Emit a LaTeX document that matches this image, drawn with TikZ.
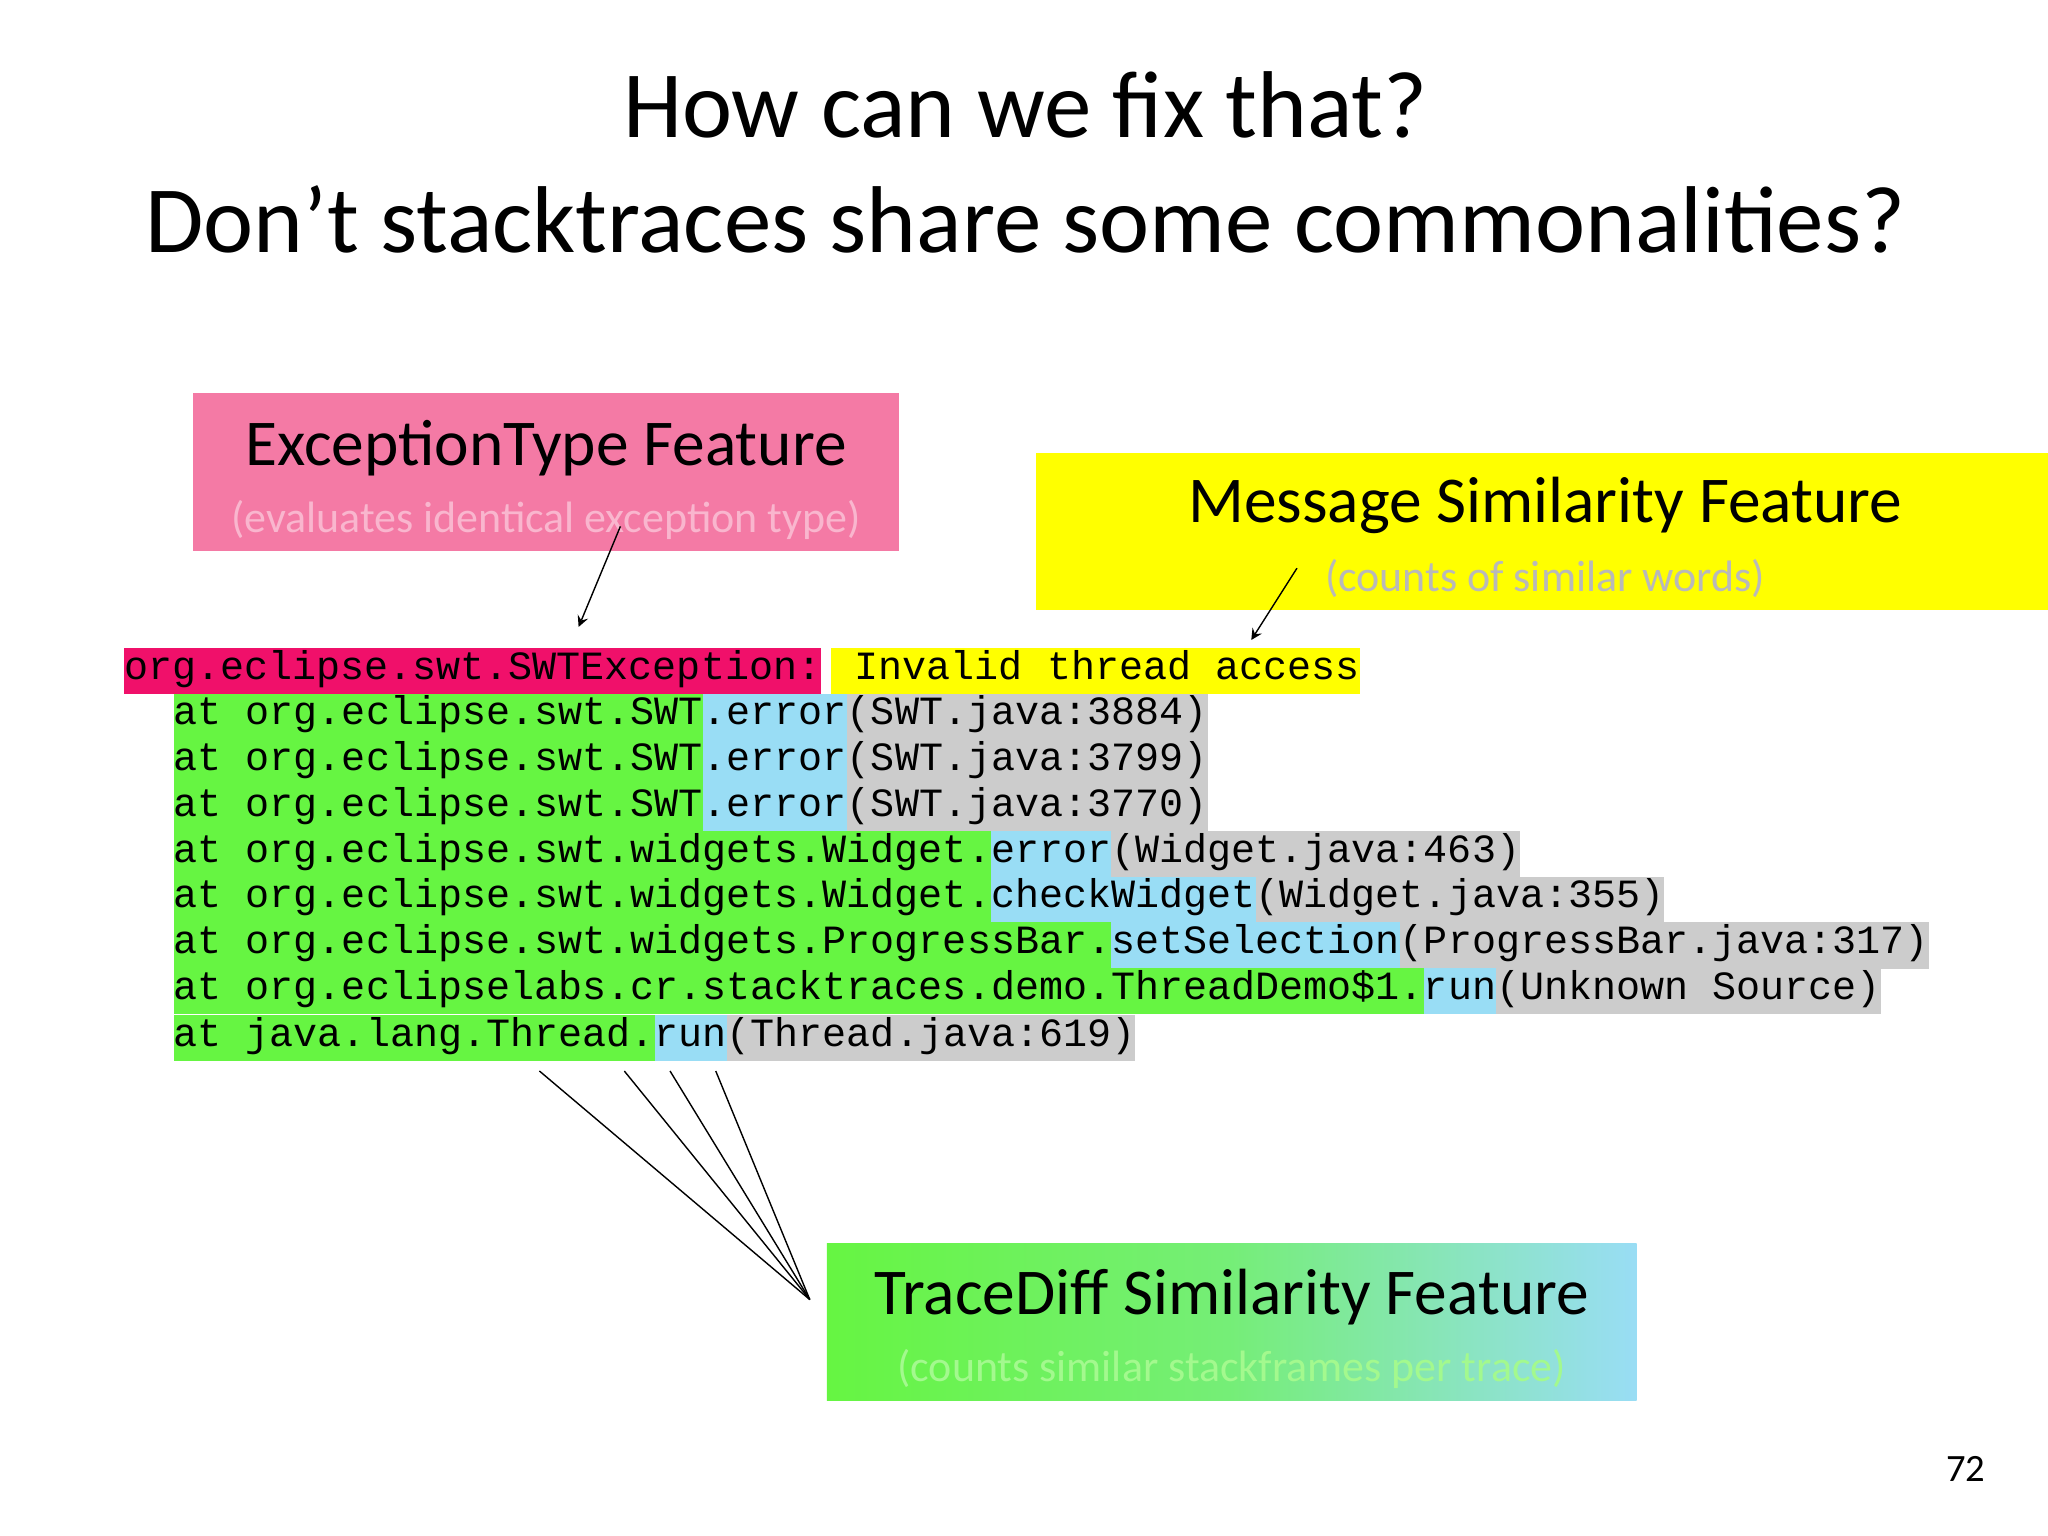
\documentclass[tikz,border=0pt]{standalone}
\usepackage{fontspec}
\setmainfont{Carlito}
\newfontfamily\codefont{Liberation Mono}
\definecolor{gr}{HTML}{66F542}
\definecolor{bl}{HTML}{99DDF5}
\definecolor{gy}{HTML}{CCCCCC}
\definecolor{pk}{HTML}{F0106A}
\definecolor{pkbox}{HTML}{F47AA5}
\definecolor{yl}{HTML}{FFFF00}
\begin{document}
\begin{tikzpicture}[x=0.01306cm,y=-0.01306cm,
  seg/.style={inner sep=0pt,outer sep=0pt,text height=0.31cm,text depth=0.151cm,font=\codefont\fontsize{11.4}{12}\selectfont,anchor=base west},
  ttl/.style={font=\fontsize{18.6}{20}\selectfont},
  sub/.style={font=\fontsize{12.5}{14}\selectfont},
  ln/.style={thin,black}]
\useasboundingbox (0,0) rectangle (1568,1176);
\node[font=\fontsize{27}{30}\selectfont] (t1) at (785,80) {How can we fix that?};
\node[font=\fontsize{27}{30}\selectfont] (t2) at (785,168) {Don’t stacktraces share some commonalities?};
% boxes
\fill[pkbox] (148,301) rectangle (688,422);
\node[ttl] (et) at (418,343) {ExceptionType Feature};
\node[sub,text=pkbox!55!white] (ets) at (418,398) {(evaluates identical exception type)};
\fill[yl] (793,347) rectangle (1568,467);
\node[ttl] (ms) at (1183,387) {Message Similarity Feature};
\node[sub,text=gray!55] (mss) at (1183,443) {(counts of similar words)};
\shade[left color=gr,right color=bl,middle color=gr!70!bl] (633,952) rectangle (1253,1072);
\node[ttl] (td) at (943,993) {TraceDiff Similarity Feature};
\node[sub,text=gr!60!white] (tds) at (943,1048) {(counts similar stackframes per trace)};
% code
\node[seg,fill=pk] (e1) at (95,520) {org.eclipse.swt.SWTException:};
\node[seg,fill=yl] (e2) at (636,520) {\ Invalid thread access\ };
\node[seg,fill=gr] (a1) at (133,555) {at org.eclipse.swt.SWT};
\node[seg,fill=bl] (b1) at (a1.base east) {.error};
\node[seg,fill=gy] (c1) at (b1.base east) {(SWT.java:3884)};
\node[seg,fill=gr] (a2) at (133,590) {at org.eclipse.swt.SWT};
\node[seg,fill=bl] (b2) at (a2.base east) {.error};
\node[seg,fill=gy] (c2) at (b2.base east) {(SWT.java:3799)};
\node[seg,fill=gr] (a3) at (133,625) {at org.eclipse.swt.SWT};
\node[seg,fill=bl] (b3) at (a3.base east) {.error};
\node[seg,fill=gy] (c3) at (b3.base east) {(SWT.java:3770)};
\node[seg,fill=gr] (a4) at (133,660) {at org.eclipse.swt.widgets.Widget.};
\node[seg,fill=bl] (b4) at (a4.base east) {error};
\node[seg,fill=gy] (c4) at (b4.base east) {(Widget.java:463)};
\node[seg,fill=gr] (a5) at (133,695) {at org.eclipse.swt.widgets.Widget.};
\node[seg,fill=bl] (b5) at (a5.base east) {checkWidget};
\node[seg,fill=gy] (c5) at (b5.base east) {(Widget.java:355)};
\node[seg,fill=gr] (a6) at (133,730) {at org.eclipse.swt.widgets.ProgressBar.};
\node[seg,fill=bl] (b6) at (a6.base east) {setSelection};
\node[seg,fill=gy] (c6) at (b6.base east) {(ProgressBar.java:317)};
\node[seg,fill=gr] (a7) at (133,765) {at org.eclipselabs.cr.stacktraces.demo.ThreadDemo\$1.};
\node[seg,fill=bl] (b7) at (a7.base east) {run};
\node[seg,fill=gy] (c7) at (b7.base east) {(Unknown Source)};
\node[seg,fill=gr] (a8) at (133,801) {at java.lang.Thread.};
\node[seg,fill=bl] (b8) at (a8.base east) {run};
\node[seg,fill=gy] (c8) at (b8.base east) {(Thread.java:619)};
% connectors
\coordinate (p1) at (475,403); \coordinate (q1) at (443,480);
\draw[ln,-stealth] (p1) -- (q1);
\coordinate (p2) at (993,435); \coordinate (q2) at (958,490);
\draw[ln,-stealth] (p2) -- (q2);
\coordinate (h) at (620,995);
\coordinate (l1) at (413,820); \coordinate (l2) at (478,820);
\coordinate (l3) at (513,820); \coordinate (l4) at (548,820);
\foreach \k in {l1,l2,l3,l4} \draw[ln] (\k) -- (h);
\node[font=\fontsize{11}{12}\selectfont] (pg) at (1505,1125) {72};
\end{tikzpicture}
\end{document}
